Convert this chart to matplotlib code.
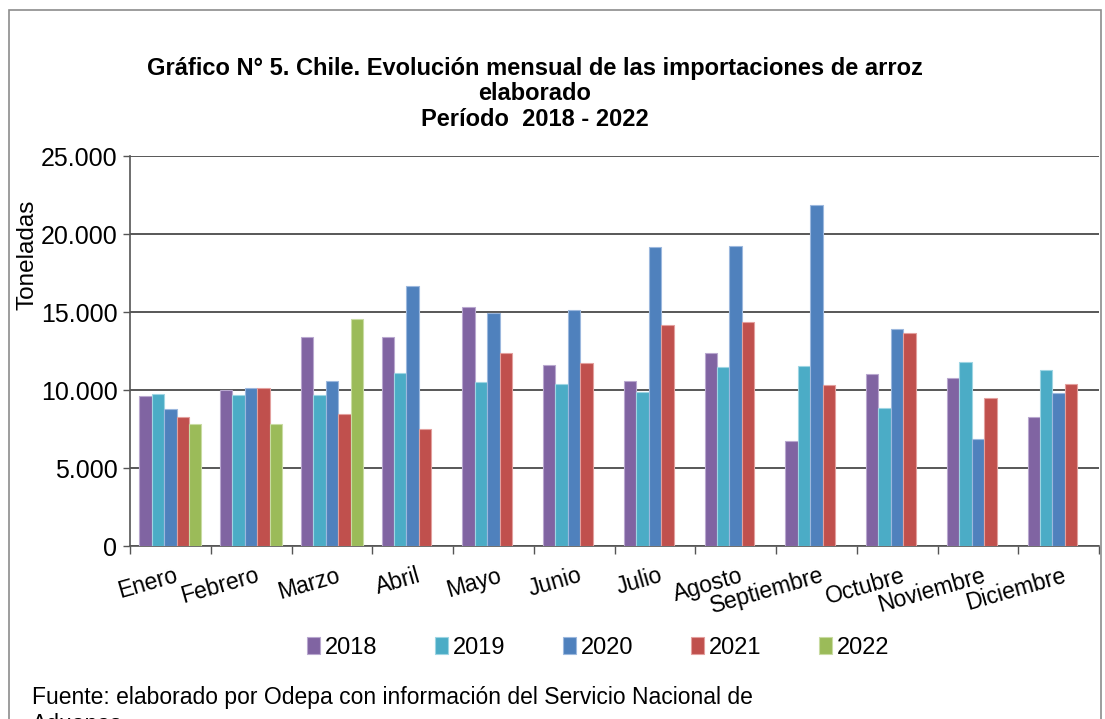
import matplotlib.pyplot as plt
import matplotlib.transforms as mtransforms
from matplotlib.patches import Rectangle
from matplotlib.ticker import FuncFormatter
import numpy as np

plt.rcParams['font.family'] = ['Liberation Sans', 'DejaVu Sans']

meses = ['Enero', 'Febrero', 'Marzo', 'Abril', 'Mayo', 'Junio', 'Julio',
         'Agosto', 'Septiembre', 'Octubre', 'Noviembre', 'Diciembre']
anios = ['2018', '2019', '2020', '2021', '2022']

t2018 = [9600, 10000, 13400, 13400, 15330, 11580, 10580, 12380, 6720, 11050, 10790, 8290]
t2019 = [9750, 9700, 9680, 11070, 10540, 10390, 9870, 11480, 11520, 8820, 11820, 11310]
t2020 = [8780, 10110, 10580, 16640, 14930, 15140, 19160, 19250, 21840, 13920, 6830, 9830]
t2021 = [8270, 10150, 8460, 7490, 12400, 11730, 14180, 14370, 10300, 13660, 9510, 10410]
t2022 = [7820, 7820, 14560]

colores = ['#8064A2', '#4BACC6', '#4F81BD', '#C0504D', '#9BBB59']
bordes = ['#B9A8CF', '#9ED5E3', '#9CB8DE', '#E3A09E', '#C9DCA3']

fig = plt.figure(figsize=(11.05, 7.19), dpi=100)
ax = fig.add_axes([130 / 1105, 1 - 546 / 719, (1099 - 130) / 1105, 390 / 719])

x = np.arange(len(meses))
w = 0.154
series = [t2018, t2019, t2020, t2021, t2022]
for i, (vals, c, e, lab) in enumerate(zip(series, colores, bordes, anios)):
    xs = x[:len(vals)] + (i - 2) * w
    ax.bar(xs, vals, w, color=c, edgecolor=e, linewidth=0.8, label=lab, zorder=3)

ax.set_xlim(-0.5, len(meses) - 0.5)
ax.set_ylim(0, 25000)
ax.set_yticks(np.arange(0, 25001, 5000))
ax.yaxis.set_major_formatter(FuncFormatter(lambda v, p: f'{int(v):,}'.replace(',', '.')))
ax.tick_params(axis='y', labelsize=18, length=5, width=1, color='#555555', pad=4)
ax.grid(axis='y', color='#4a4a4a', linewidth=1.3, zorder=0)

ax.set_xticks(x)
ax.set_xticklabels(meses, rotation=16, ha='right', va='top', rotation_mode='anchor')
ax.tick_params(axis='x', which='major', length=0, labelsize=16.5, pad=13)
ax.set_xticks(np.arange(-0.5, len(meses)), minor=True)
ax.tick_params(axis='x', which='minor', length=6, width=1, color='#555555')
off = mtransforms.ScaledTranslation(4 / 100, 0, fig.dpi_scale_trans)
for t in ax.get_xticklabels():
    t.set_transform(t.get_transform() + off)

for s in ['top', 'right']:
    ax.spines[s].set_visible(False)
for s in ['left', 'bottom']:
    ax.spines[s].set_color('#555555')
    ax.spines[s].set_linewidth(1.2)

fig.text(27 / 1105, 1 - 255 / 719, 'Toneladas', rotation=90, ha='center', va='center', fontsize=17.5)

fig.text(535 / 1105, 1 - 94 / 719,
         'Gráfico N° 5. Chile. Evolución mensual de las importaciones de arroz\nelaborado\nPeríodo  2018 - 2022',
         ha='center', va='center', fontsize=17, fontweight='bold', linespacing=1.12)

fig.legend(loc='center', bbox_to_anchor=(598 / 1105, 1 - 648 / 719), ncol=5, frameon=False,
           fontsize=17, handlelength=0.55, handleheight=0.7, handletextpad=0.2, columnspacing=2.45)

fig.text(32 / 1105, 1 - 686 / 719,
         'Fuente: elaborado por Odepa con información del Servicio Nacional de\nAduanas',
         ha='left', va='top', fontsize=16.5, linespacing=1.2)

fig.patches.append(Rectangle((9 / 1105, -0.05), (1101 - 9) / 1105, 1.05 - 10 / 719,
                             transform=fig.transFigure, fill=False, edgecolor='#8c8c8c', linewidth=1.2))

fig.savefig('out.png', dpi=100)
